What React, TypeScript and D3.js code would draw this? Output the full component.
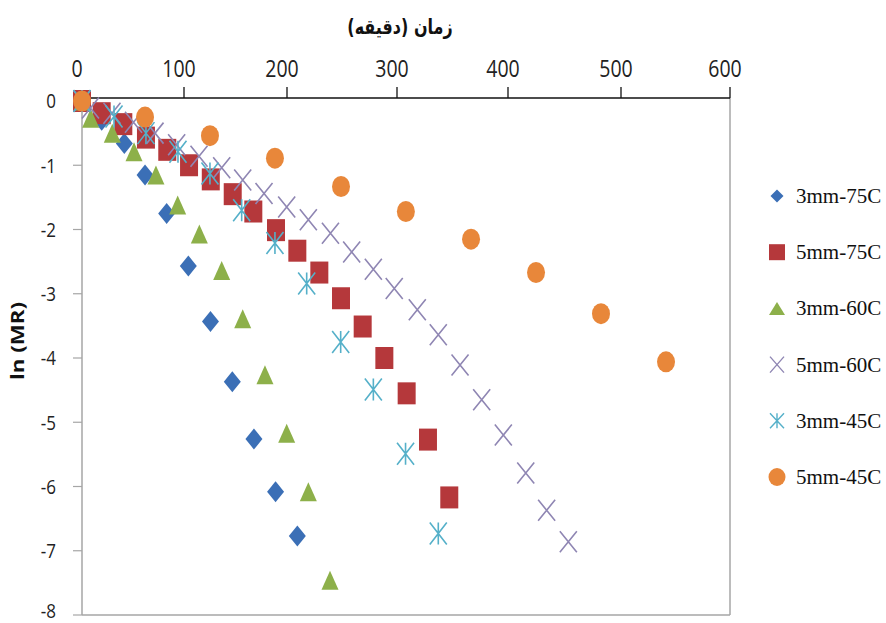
import React, { useRef, useEffect } from 'react';
import * as d3 from 'd3';

// tick labels
const xTicks = [0, 100, 200, 300, 400, 500, 600];
const yTicks = [0, -1, -2, -3, -4, -5, -6, -7, -8];

const seriesNames = ['3mm-75C', '5mm-75C', '3mm-60C', '5mm-60C', '3mm-45C', '5mm-45C'];

// time (min) / ln(MR)
const time3mm75C = [0, 19.3, 41.5, 61.8, 83, 104.2, 125.7, 146.9, 167.9, 188.9, 209.4];
const lnMR3mm75C = [0, -0.3, -0.66, -1.15, -1.75, -2.57, -3.43, -4.37, -5.26, -6.08, -6.77];

const time5mm75C = [0, 19.3, 40.5, 62.7, 83.6, 104.9, 126, 147.3, 167.3, 189.3, 209.4, 229.4, 249.1, 268.8, 288.5, 308.7, 327.9, 347.1];
const lnMR5mm75C = [0, -0.19, -0.36, -0.57, -0.76, -1.0, -1.22, -1.45, -1.72, -2.01, -2.33, -2.67, -3.07, -3.51, -4.0, -4.55, -5.27, -6.17];

const time3mm60C = [0, 8.5, 29.7, 51, 72.5, 93.8, 114.9, 136.6, 157, 178.6, 199.7, 219.4, 239.1];
const lnMR3mm60C = [0, -0.27, -0.5, -0.79, -1.15, -1.62, -2.07, -2.64, -3.39, -4.26, -5.17, -6.08, -7.46];

const time5mm60C = [0, 8.3, 29.4, 50.5, 71.6, 92.8, 114.6, 136.6, 157, 177.7, 199.7, 219.4, 239.5, 258.8, 278.5, 297.5, 318.3, 337.2, 356.8, 376.3, 395.8, 415.7, 434.2, 453.4];
const lnMR5mm60C = [0, -0.11, -0.19, -0.33, -0.5, -0.68, -0.86, -1.04, -1.23, -1.44, -1.65, -1.85, -2.06, -2.35, -2.62, -2.92, -3.25, -3.64, -4.11, -4.65, -5.2, -5.79, -6.37, -6.86];

const time3mm45C = [0, 31.4, 62.7, 94.1, 125.2, 156, 188.3, 217.9, 248.8, 278.5, 307.7, 337.2];
const lnMR3mm45C = [0, -0.24, -0.5, -0.79, -1.13, -1.7, -2.21, -2.84, -3.75, -4.49, -5.49, -6.73];

const time5mm45C = [0, 61.8, 125.2, 188.3, 249.1, 308, 366.7, 424.8, 482.3, 541.3];
const lnMR5mm45C = [0, -0.25, -0.54, -0.89, -1.33, -1.72, -2.15, -2.67, -3.31, -4.06];

const W = 886;
const H = 623;

const shapePath = (shape: string, w: number, h: number) => {
  const a = w / 2, b = h / 2;
  switch (shape) {
    case 'diamond': return `M0,${-b}L${a},0L0,${b}L${-a},0Z`;
    case 'square': return `M${-a},${-b}H${a}V${b}H${-a}Z`;
    case 'triangle': return `M0,${-b}L${a},${b}L${-a},${b}Z`;
    case 'x': return `M${-a},${-b}L${a},${b}M${a},${-b}L${-a},${b}`;
    case 'star': return `M${-a},${-b}L${a},${b}M${a},${-b}L${-a},${b}M0,${-b}V${b}`;
    default: return `M${-a},0A${a},${b} 0 1,0 ${a},0A${a},${b} 0 1,0 ${-a},0Z`;
  }
};

function DryingChart() {
  const ref = useRef<SVGSVGElement>(null);

  useEffect(() => {
    const svg = d3.select(ref.current);
    svg.selectAll('*').remove();

    const series = [
      { name: seriesNames[0], t: time3mm75C, v: lnMR3mm75C, shape: 'diamond', color: '#3b6fb6', w: 17, h: 21, lw: 13, lh: 13 },
      { name: seriesNames[1], t: time5mm75C, v: lnMR5mm75C, shape: 'square', color: '#b5383b', w: 18, h: 22, lw: 16, lh: 16 },
      { name: seriesNames[2], t: time3mm60C, v: lnMR3mm60C, shape: 'triangle', color: '#8db04a', w: 17, h: 19, lw: 16, lh: 13 },
      { name: seriesNames[3], t: time5mm60C, v: lnMR5mm60C, shape: 'x', color: '#8f86b3', w: 17, h: 21, lw: 14, lh: 16 },
      { name: seriesNames[4], t: time3mm45C, v: lnMR3mm45C, shape: 'star', color: '#55b0c9', w: 17, h: 22, lw: 14, lh: 15 },
      { name: seriesNames[5], t: time5mm45C, v: lnMR5mm45C, shape: 'circle', color: '#e8873a', w: 18, h: 21, lw: 17, lh: 18 },
    ];

    // the time axis in the picture is not evenly spaced, so map each tick
    const x = d3.scaleLinear().domain(xTicks).range([82, 184, 287, 397, 508, 621, 730]);
    const y = d3.scaleLinear().domain([0, -8]).range([101, 615]);
    const top = 98;

    svg.append('rect').attr('width', W).attr('height', H).attr('fill', '#fff');

    // frame
    const grey = '#a6a6a6';
    svg.append('line').attr('x1', x(600)).attr('x2', x(600)).attr('y1', top).attr('y2', y(-8)).attr('stroke', grey).attr('stroke-width', 1.5);
    svg.append('line').attr('x1', x(0)).attr('x2', x(600)).attr('y1', y(-8)).attr('y2', y(-8)).attr('stroke', grey).attr('stroke-width', 1.5);

    // left axis
    const yAxis = svg.append('g');
    yAxis.append('line').attr('x1', x(0)).attr('x2', x(0)).attr('y1', top).attr('y2', y(-8)).attr('stroke', grey).attr('stroke-width', 1.5);
    yAxis.selectAll('line.tick').data(yTicks.slice(1)).enter().append('line')
      .attr('class', 'tick')
      .attr('x1', x(0) - 9).attr('x2', x(0))
      .attr('y1', d => y(d)).attr('y2', d => y(d))
      .attr('stroke', grey).attr('stroke-width', 1.2);
    yAxis.selectAll('text').data(yTicks).enter().append('text')
      .attr('transform', d => `translate(56,${Math.min(y(d) + 7.3, 618)}) scale(1,1.2)`)
      .attr('text-anchor', 'end')
      .style('font-family', 'Open Sans, sans-serif')
      .style('font-size', '17px')
      .attr('fill', '#222')
      .text(d => d);

    // top axis
    const xAxis = svg.append('g');
    xAxis.selectAll('line.tick').data(xTicks.slice(1)).enter().append('line')
      .attr('class', 'tick')
      .attr('x1', d => x(d)).attr('x2', d => x(d))
      .attr('y1', top - 11).attr('y2', top)
      .attr('stroke', '#111').attr('stroke-width', 1.3);
    xAxis.append('line').attr('x1', x(0)).attr('x2', x(600)).attr('y1', top).attr('y2', top).attr('stroke', '#111').attr('stroke-width', 1.6);
    xAxis.selectAll('text').data(xTicks).enter().append('text')
      .attr('transform', d => `translate(${x(d) - 5},76.5) scale(1,1.2)`)
      .attr('text-anchor', 'middle')
      .style('font-family', 'Open Sans, sans-serif')
      .style('font-size', '19.5px')
      .attr('fill', '#222')
      .text(d => d);

    // titles
    svg.append('text')
      .attr('transform', 'translate(400,34) scale(1,1.3)')
      .attr('direction', 'rtl')
      .attr('text-anchor', 'middle')
      .style('font-family', 'DejaVu Sans, sans-serif')
      .style('font-weight', 'bold')
      .style('font-size', '16px')
      .attr('fill', '#111')
      .text('زمان (دقیقه)');

    svg.append('text')
      .attr('transform', 'translate(24,341) rotate(-90)')
      .attr('text-anchor', 'middle')
      .attr('textLength', 78)
      .attr('lengthAdjust', 'spacingAndGlyphs')
      .style('font-family', 'Open Sans, sans-serif')
      .style('font-weight', 'bold')
      .style('font-size', '18px')
      .attr('fill', '#111')
      .text('ln (MR)');

    // markers
    const isLine = (s: string) => s === 'x' || s === 'star';
    series.forEach(s => {
      const pts = s.t.map((t, i) => [t, s.v[i]]);
      svg.append('g').selectAll('path').data(pts).enter().append('path')
        .attr('transform', d => `translate(${x(d[0])},${y(d[1])})`)
        .attr('d', shapePath(s.shape, s.w, s.h))
        .attr('fill', isLine(s.shape) ? 'none' : s.color)
        .attr('stroke', isLine(s.shape) ? s.color : 'none')
        .attr('stroke-width', 1.6);
    });

    // legend
    const legend = svg.append('g').attr('transform', 'translate(777,196)');
    const item = legend.selectAll('g').data(series).enter().append('g')
      .attr('transform', (d, i) => `translate(0,${i * 56.2})`);
    item.append('path')
      .attr('d', d => shapePath(d.shape, d.lw, d.lh))
      .attr('fill', d => isLine(d.shape) ? 'none' : d.color)
      .attr('stroke', d => isLine(d.shape) ? d.color : 'none')
      .attr('stroke-width', 1.4);
    item.append('text')
      .attr('x', 19).attr('y', 7)
      .style('font-family', 'Liberation Serif, serif')
      .style('font-size', '21px')
      .attr('fill', '#111')
      .text(d => d.name);
  }, []);

  return (
    <svg ref={ref} width={W} height={H} style={{ position: 'absolute', left: 0, top: 0 }} />
  );
}

export default function App() {
  return <DryingChart />;
}
